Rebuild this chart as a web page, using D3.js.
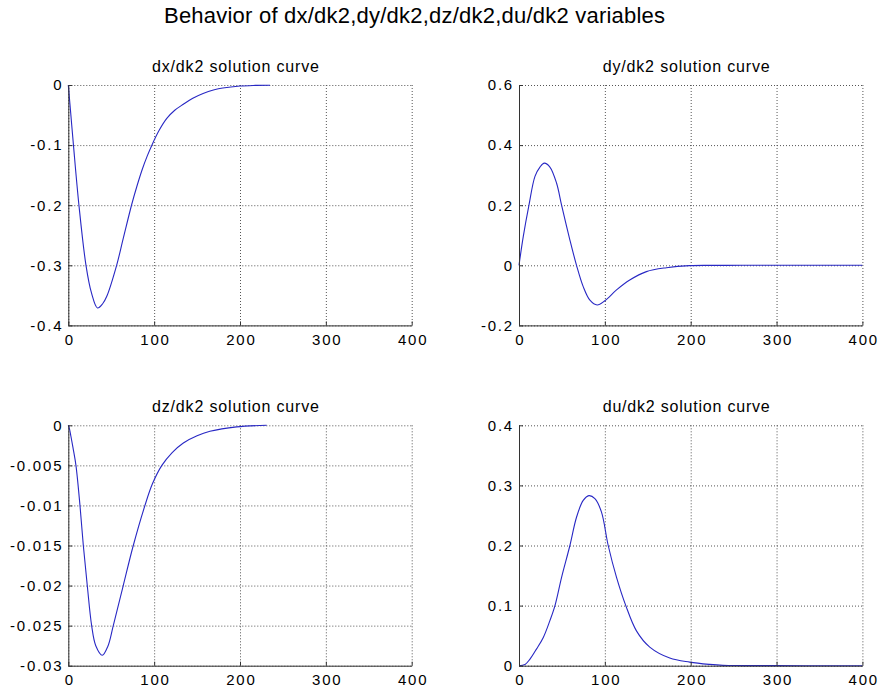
<!DOCTYPE html>
<html>
<head>
<meta charset="utf-8">
<script src="https://cdn.jsdelivr.net/npm/d3@7"></script>
<style>
  body { margin: 0; background: #fff; }
  svg { display: block; font-family: "Liberation Sans", Arial, Helvetica, sans-serif; }
  .tick text { font-size: 15px; letter-spacing: 1.8px; fill: #000; }
  .grid line { stroke: #555; stroke-dasharray: 1,2; }
  .grid .domain { display: none; }
  .axis .domain { stroke: #333; }
  .axis .tick line { stroke: #333; }
  .curve { fill: none; stroke: #2828c4; stroke-width: 1.1; }
</style>
</head>
<body>
<div id="container"></div>
<script>
// values (k2 step on x)
const dxK = [0, 3, 6, 12.4, 20.6, 27, 34, 40, 44.7, 56.3, 64, 74, 80, 86, 92, 98, 106, 114.5, 124, 134, 145, 157, 170, 180, 200, 218, 235];
const dxVal = [0, -0.05, -0.1, -0.2, -0.3, -0.346, -0.371, -0.364, -0.352, -0.3, -0.2553, -0.198, -0.168, -0.141, -0.118, -0.098, -0.075, -0.056, -0.042, -0.032, -0.022, -0.014, -0.008, -0.005, -0.0017, -0.0006, -0.0002];

const dyK = [0, 5, 11.6, 18.6, 24.4, 29.5, 36, 43.8, 49.6, 59.3, 67, 74.8, 82.6, 91, 100, 113.6, 129, 148.4, 171.7, 198.8, 230, 260, 300, 350, 400];
const dyVal = [0, 0.096, 0.2, 0.296, 0.327, 0.34, 0.327, 0.273, 0.2, 0.084, 0, -0.071, -0.116, -0.132, -0.118, -0.082, -0.049, -0.021, -0.008, -0.001, -0.0003, 0, 0, 0, 0];

const dzK = [0, 1.5, 3.1, 5.8, 8.9, 13.6, 17.5, 22.1, 27.2, 32, 39.6, 46, 52.4, 64, 75.7, 89.3, 98, 109, 121, 134, 150, 165, 196, 231];
const dzVal = [0, -0.0005, -0.0014, -0.003, -0.005, -0.01, -0.015, -0.02, -0.025, -0.0275, -0.0287, -0.0276, -0.025, -0.02, -0.015, -0.01, -0.0073, -0.005, -0.0034, -0.0022, -0.0013, -0.00075, -0.0002, 0];

const duK = [0, 7, 12.8, 20.5, 28.3, 36, 41.9, 49.6, 59.3, 67, 74.8, 81.4, 88.4, 96, 103.9, 113.6, 124.4, 136.8, 152.3, 175.6, 198.8, 222, 237.6, 260, 300, 350, 400];
const duVal = [0, 0.002, 0.011, 0.028, 0.047, 0.075, 0.1, 0.147, 0.2, 0.247, 0.275, 0.283, 0.278, 0.256, 0.2, 0.147, 0.1, 0.058, 0.031, 0.0128, 0.006, 0.0022, 0.0006, 0.0002, 0.0001, 0, 0];

const xTicks = [0, 100, 200, 300, 400];
const xLabels = ['0', '100', '200', '300', '400'];

const dxTicks = [-0.4, -0.3, -0.2, -0.1, 0];
const dxLabels = ['-0.4', '-0.3', '-0.2', '-0.1', '0'];
const dyTicks = [-0.2, 0, 0.2, 0.4, 0.6];
const dyLabels = ['-0.2', '0', '0.2', '0.4', '0.6'];
const dzTicks = [-0.03, -0.025, -0.02, -0.015, -0.01, -0.005, 0];
const dzLabels = ['-0.03', '-0.025', '-0.02', '-0.015', '-0.01', '-0.005', '0'];
const duTicks = [0, 0.1, 0.2, 0.3, 0.4];
const duLabels = ['0', '0.1', '0.2', '0.3', '0.4'];

const titles = ['dx/dk2 solution curve', 'dy/dk2 solution curve', 'dz/dk2 solution curve', 'du/dk2 solution curve'];

const W = 879, H = 696;
const colLeft = [68.3, 519];
const rowTop = [85, 425.3];
const pw = 343.4, ph = 240.4;

const svg = d3.select('#container').append('svg')
  .attr('width', W)
  .attr('height', H);

svg.append('text')
  .attr('x', 164)
  .attr('y', 23)
  .attr('font-size', 22)
  .attr('textLength', 501)
  .attr('lengthAdjust', 'spacing')
  .text('Behavior of dx/dk2,dy/dk2,dz/dk2,du/dk2 variables');

const panels = [
  { k: dxK, v: dxVal, ticks: dxTicks, labels: dxLabels, col: 0, row: 0 },
  { k: dyK, v: dyVal, ticks: dyTicks, labels: dyLabels, col: 1, row: 0 },
  { k: dzK, v: dzVal, ticks: dzTicks, labels: dzLabels, col: 0, row: 1 },
  { k: duK, v: duVal, ticks: duTicks, labels: duLabels, col: 1, row: 1 }
];

panels.forEach((p, i) => {
  const g = svg.append('g')
    .attr('transform', `translate(${colLeft[p.col]}, ${rowTop[p.row]})`);

  const x = d3.scaleLinear().domain([0, 400]).range([0, pw]);
  const y = d3.scaleLinear()
    .domain([p.ticks[0], p.ticks[p.ticks.length - 1]])
    .range([ph, 0]);

  // dotted grid
  g.append('g')
    .attr('class', 'grid')
    .call(d3.axisBottom(x).tickValues(xTicks).tickSize(ph).tickFormat(''));
  g.append('g')
    .attr('class', 'grid')
    .call(d3.axisLeft(y).tickValues(p.ticks).tickSize(-pw).tickFormat(''));

  const line = d3.line()
    .x((d, j) => x(p.k[j]))
    .y(d => y(d))
    .curve(d3.curveCatmullRom.alpha(0.5));

  g.append('path')
    .attr('class', 'curve')
    .attr('d', line(p.v));

  g.append('g')
    .attr('class', 'axis')
    .attr('transform', `translate(0, ${ph})`)
    .call(d3.axisBottom(x).tickValues(xTicks).tickSizeInner(-4).tickSizeOuter(0)
      .tickPadding(9).tickFormat((d, j) => xLabels[j]))
    .selectAll('text')
    .attr('dx', '0.9px');

  g.append('g')
    .attr('class', 'axis')
    .call(d3.axisLeft(y).tickValues(p.ticks).tickSizeInner(-4).tickSizeOuter(0)
      .tickPadding(5).tickFormat((d, j) => p.labels[j]));

  g.append('text')
    .attr('x', pw / 2 - 88)
    .attr('y', -13)
    .attr('font-size', 16)
    .attr('textLength', 167)
    .attr('lengthAdjust', 'spacing')
    .text(titles[i]);
});
</script>
</body>
</html>
